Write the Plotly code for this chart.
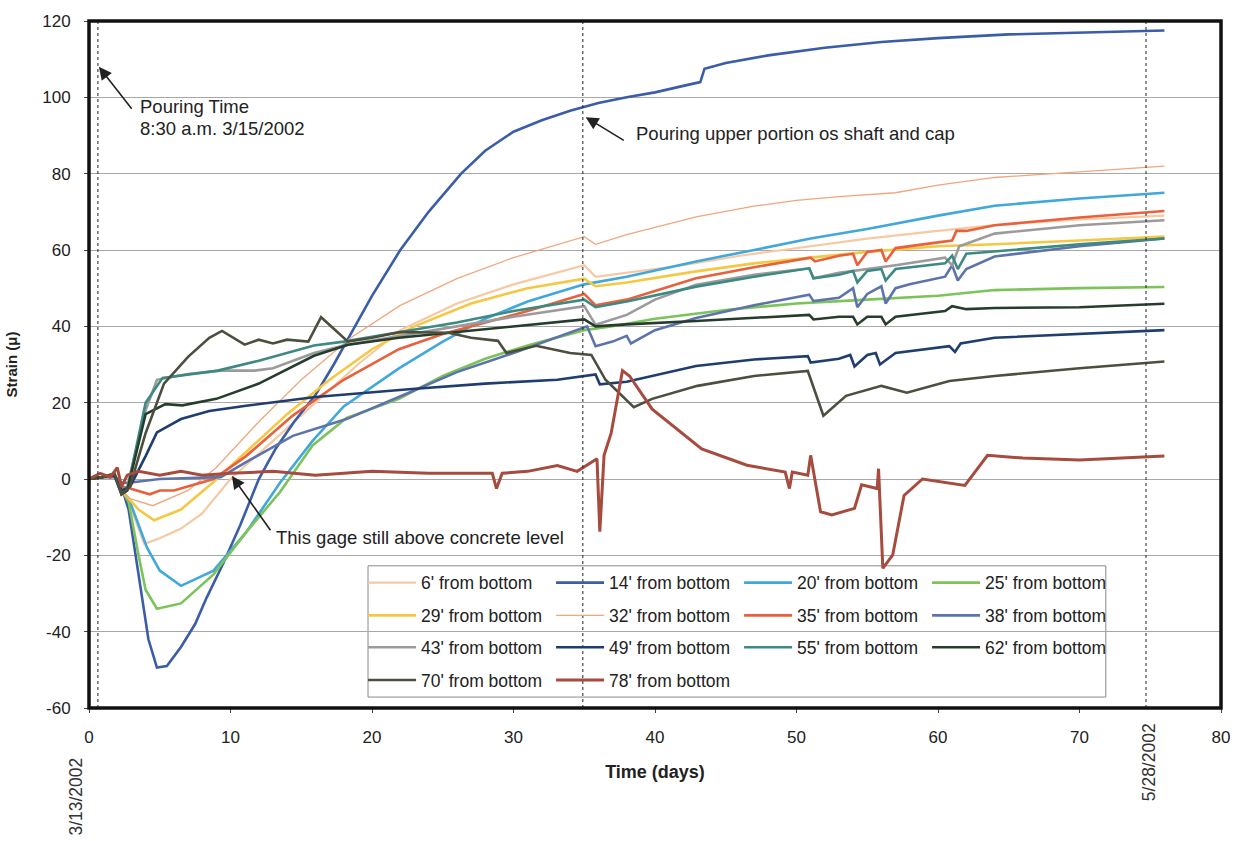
import plotly.graph_objects as go

# ---------------- data ----------------
days_6 = [0, 1.0, 1.8, 2.3, 2.8, 3.9, 5.0, 6.5, 8.0, 10.0, 13.0, 16.0, 19.0, 22.0, 26.0, 30.0, 35.0, 35.8, 38.0, 42.0, 46.0, 50.0, 55.0, 60.0, 64.0, 70.0, 76.0]
strain_6 = [0, 0.5, 1.5, -3, -6, -17, -15.5, -13, -9, 0, 10, 20, 30, 39, 46, 51, 56, 53, 54, 56, 58.5, 60.5, 63, 65, 66.5, 68, 69]

days_14 = [0, 1.0, 1.8, 2.3, 2.8, 3.5, 4.2, 4.8, 5.5, 6.5, 7.5, 8.3, 9.5, 10.7, 12.0, 13.2, 14.5, 16.0, 17.3, 18.5, 20.0, 22.0, 24.0, 26.3, 28.0, 30.0, 32.0, 34.0, 35.0, 36.0, 38.0, 40.0, 42.0, 43.2, 43.5, 45.0, 48.0, 52.0, 56.0, 60.0, 65.0, 70.0, 76.0]
strain_14 = [0, 0.5, 1, -2, -8, -25, -42, -49.4, -49, -44, -38, -31.2, -22, -12, 0, 8, 15, 22, 30, 38, 48, 60, 70, 80, 86, 91, 94, 96.5, 97.5, 98.5, 100, 101.3, 103, 104, 107.5, 109, 111, 113, 114.5, 115.5, 116.5, 117, 117.5]

days_20 = [0, 1.0, 1.8, 2.3, 2.8, 3.5, 4.1, 5.0, 6.5, 8.8, 11.1, 13.5, 15.8, 18.0, 21.9, 25.0, 28.0, 31.0, 35.0, 38.0, 42.9, 47.0, 51.0, 55.0, 60.0, 64.0, 70.0, 76.0]
strain_20 = [0, 0.5, 1, -3, -5, -12, -18, -24, -28, -24, -14, -1, 10, 19, 29, 36, 42, 46.5, 51, 53, 57, 60, 63, 65.5, 69, 71.6, 73.5, 75]

days_25 = [0, 1.0, 1.8, 2.3, 2.8, 3.5, 4.0, 4.8, 6.5, 8.8, 11.1, 13.5, 15.8, 18.2, 21.9, 25.0, 28.0, 31.0, 35.0, 37.0, 40.0, 45.3, 50.0, 55.0, 60.0, 64.0, 70.0, 76.0]
strain_25 = [0, 0.5, 1, -3, -6, -20, -29, -34, -32.6, -25, -14, -3.4, 8.8, 16, 21, 27, 31.5, 35, 39, 40, 42, 44.4, 46, 47, 48, 49.5, 50, 50.3]

days_29 = [0, 1.0, 1.8, 2.3, 2.8, 3.5, 4.6, 6.5, 8.8, 11.1, 14.0, 17.0, 20.0, 23.0, 27.0, 31.0, 35.0, 35.8, 38.0, 42.9, 47.0, 51.0, 55.0, 60.0, 64.0, 70.0, 76.0]
strain_29 = [0, 0.5, 1, -3, -5, -8, -10.8, -8, -0.8, 7, 17, 26, 34, 40, 46, 50, 52.5, 50.5, 51.5, 54.4, 56.5, 58, 59.5, 61, 61.5, 62.5, 63.5]

days_32 = [0, 1.0, 1.8, 2.3, 2.8, 4.5, 7.0, 9.0, 12.0, 15.0, 18.5, 22.0, 26.0, 30.0, 35.0, 35.8, 38.0, 42.9, 47.0, 50.0, 53.0, 57.0, 60.0, 64.0, 70.0, 76.0]
strain_32 = [0, 0.5, 1, -3, -5, -7, -3, 3, 15, 26, 37, 45.5, 52.5, 58, 63.5, 61.5, 64, 68.7, 71.5, 73, 74, 75, 77, 79, 80.5, 82]

days_35 = [0, 1.0, 1.8, 2.3, 2.9, 4.3, 5.0, 6.0, 8.8, 11.1, 14.4, 18.0, 21.9, 25.0, 28.0, 31.0, 35.0, 35.8, 38.0, 42.9, 47.0, 51.0, 51.3, 53.0, 54.0, 54.3, 55.0, 56.0, 56.3, 57.0, 60.0, 61.0, 61.3, 62.0, 64.0, 70.0, 76.0]
strain_35 = [0, 0.5, 1, -2, -2.5, -4, -3, -3, 0, 6, 16.6, 26, 34, 38, 41, 44, 48.5, 45.5, 47, 52.6, 55.5, 58, 57, 58.5, 59, 56, 59.5, 60, 57, 60.5, 62, 62.5, 65, 65, 66.5, 68.5, 70.2]

days_38 = [0, 1.0, 1.8, 2.3, 2.8, 5.0, 9.3, 11.1, 14.4, 18.2, 22.6, 26.0, 30.0, 33.0, 35.2, 35.8, 37.0, 38.0, 38.3, 40.0, 42.9, 47.0, 50.9, 51.2, 53.0, 54.0, 54.3, 55.0, 56.0, 56.3, 57.0, 58.0, 60.5, 61.0, 61.4, 62.0, 64.0, 70.0, 76.0]
strain_38 = [0, 0.5, 0.5, -1, -1, 0, 0.5, 4.4, 11.3, 15.7, 22.6, 28, 33, 37, 40, 34.8, 36, 37.5, 35.5, 39, 42.2, 45.5, 48.3, 46.6, 47.5, 50, 45, 48.5, 50.5, 46, 50, 51, 53, 56, 52, 55, 58.3, 61, 63]

days_43 = [0, 1.0, 1.8, 2.3, 2.7, 4.0, 4.8, 7.0, 9.3, 11.7, 13.0, 15.9, 18.0, 22.0, 26.0, 30.0, 35.0, 35.8, 38.0, 40.0, 42.9, 47.0, 50.9, 51.2, 53.0, 57.0, 60.5, 61.0, 61.5, 64.0, 70.0, 76.0]
strain_43 = [0, 0.5, 1, -3, -2, 18, 26, 27.5, 28.4, 28.4, 29, 33, 35, 37.5, 40, 42.5, 45.3, 40.4, 43, 47, 50.9, 53.5, 55.2, 52.6, 54, 56, 58, 56, 61, 64.3, 66.5, 67.8]

days_49 = [0, 1.0, 1.8, 2.3, 2.9, 4.0, 4.8, 6.5, 8.5, 11.1, 16.0, 22.6, 28.0, 33.1, 35.8, 36.1, 38.0, 42.9, 47.0, 50.8, 51.0, 53.0, 53.8, 54.1, 55.0, 55.6, 55.9, 57.0, 58.0, 60.8, 61.2, 61.6, 64.0, 70.0, 76.0]
strain_49 = [0, 0.5, 1, -3, -2, 6, 12.2, 15.7, 17.8, 19.2, 21.5, 23.5, 25, 26, 27.4, 24.8, 25.5, 29.6, 31.3, 32.2, 30.5, 31.5, 32.5, 29.5, 32.5, 33, 30, 33, 33.5, 34.8, 33.3, 35.5, 37, 38, 39]

days_55 = [0, 1.0, 1.8, 2.3, 2.7, 4.0, 5.2, 9.1, 12.0, 15.9, 18.0, 22.0, 26.0, 30.0, 35.0, 35.8, 38.0, 42.9, 47.0, 50.9, 51.2, 53.0, 54.0, 54.3, 55.0, 56.0, 56.3, 57.0, 60.5, 61.0, 61.4, 62.0, 64.0, 70.0, 76.0]
strain_55 = [0, 0.5, 1, -4, -3, 20, 26.5, 28.4, 31, 35, 36, 38.5, 41, 44, 47, 45, 46.5, 50.4, 53, 55.2, 52.6, 53.5, 54.5, 51.5, 54.5, 55, 52, 55, 56.5, 58.5, 55, 59, 59.6, 61.5, 63]

days_62 = [0, 1.0, 1.8, 2.3, 2.7, 4.0, 5.4, 6.6, 9.0, 12.0, 15.9, 18.3, 21.9, 26.0, 30.0, 35.0, 35.8, 38.0, 42.9, 47.0, 50.9, 51.2, 53.0, 54.0, 54.3, 55.0, 56.0, 56.3, 57.0, 60.5, 61.0, 62.0, 64.0, 70.0, 76.0]
strain_62 = [0, 0.5, 1, -4, -3, 17, 19.6, 19.3, 21, 25, 32.3, 35.2, 37, 38.5, 40, 41.8, 40, 40.5, 41.4, 42.3, 43, 41.8, 42.5, 42.5, 40.5, 42.5, 42.5, 40.5, 42.5, 44, 45.3, 44.5, 44.8, 45, 45.9]

days_70 = [0, 1.0, 1.8, 2.3, 2.9, 4.0, 5.3, 7.0, 8.5, 9.4, 11.0, 12.0, 13.0, 14.0, 15.5, 16.4, 18.3, 20.0, 22.0, 25.4, 27.0, 28.9, 29.5, 31.6, 34.0, 35.5, 36.5, 38.5, 39.8, 43.0, 47.0, 50.8, 51.9, 53.5, 56.0, 57.8, 60.8, 64.0, 70.0, 76.0]
strain_70 = [0, 0.5, 1.5, -4, -2, 12, 25, 32, 37, 38.8, 35.2, 36.5, 35.5, 36.5, 36, 42.4, 36, 37, 38.5, 38.3, 37, 36.2, 33, 34.9, 33, 32.5, 26, 18.8, 21, 24.4, 27, 28.3, 16.6, 21.8, 24.4, 22.6, 25.7, 27, 29, 30.8]

days_78 = [0, 0.8, 1.5, 2.0, 2.3, 2.7, 3.5, 5.0, 6.5, 8.0, 10.0, 13.0, 16.0, 20.0, 24.0, 28.5, 28.8, 29.2, 31.0, 33.1, 34.5, 35.9, 36.1, 36.4, 36.9, 37.7, 38.2, 39.8, 43.3, 46.5, 49.2, 49.5, 49.7, 50.8, 51.0, 51.7, 52.5, 54.1, 54.6, 55.7, 55.8, 56.1, 56.8, 57.6, 58.9, 61.9, 63.5, 66.0, 70.0, 76.0]
strain_78 = [0, 1.5, 0.5, 3, -2, 1, 2, 1, 2, 1, 1.5, 2, 1, 2, 1.5, 1.5, -2.5, 1.5, 2, 3.5, 2, 5.3, -13.8, 6.2, 12, 28.4, 27, 18.3, 7.9, 3.6, 1.8, -2.5, 1.8, 1, 6.2, -8.6, -9.4, -7.7, -1.5, -2.5, 2.7, -23.4, -19.9, -4.3, 0, -1.7, 6.2, 5.5, 5, 6]

series_names = ["6' from bottom", "14' from bottom", "20' from bottom", "25' from bottom",
                "29' from bottom", "32' from bottom", "35' from bottom", "38' from bottom",
                "43' from bottom", "49' from bottom", "55' from bottom", "62' from bottom",
                "70' from bottom", "78' from bottom"]
series_days = [days_6, days_14, days_20, days_25, days_29, days_32, days_35, days_38,
               days_43, days_49, days_55, days_62, days_70, days_78]
series_strain = [strain_6, strain_14, strain_20, strain_25, strain_29, strain_32, strain_35, strain_38,
                 strain_43, strain_49, strain_55, strain_62, strain_70, strain_78]

colors = ["#f7c9a3", "#3b5ca6", "#40a8da", "#7cc35a", "#f5c843", "#f0a77c", "#e8613d", "#5d73ab",
          "#9b9b9b", "#1f3d6e", "#3d8a83", "#263d2d", "#4b4f3e", "#a64b3e"]
widths = [2.2, 2.6, 2.6, 2.6, 2.6, 1.3, 2.6, 2.6, 2.6, 2.6, 2.6, 2.6, 2.6, 3.0]

x_ticks = [0, 10, 20, 30, 40, 50, 60, 70, 80]
y_ticks = [-60, -40, -20, 0, 20, 40, 60, 80, 100, 120]
y_tick_text = [str(v) for v in y_ticks]
event_days = [0.63, 34.9, 74.7]

FONT = "Liberation Sans, Arial, sans-serif"

# ---------------- figure ----------------
fig = go.Figure()
legend_ids = ["legend", "legend2", "legend3", "legend4"]
for i, (nm, dx, sy) in enumerate(zip(series_names, series_days, series_strain)):
    fig.add_trace(go.Scatter(
        x=dx, y=sy, mode="lines", name=nm,
        line=dict(color=colors[i], width=widths[i]),
        legend=legend_ids[i // 4],
    ))

# legend box (white, between grid and traces) and dashed event lines
fig.add_shape(type="rect", xref="paper", yref="paper",
              x0=(369 - 88) / 1140, x1=(1112 - 88) / 1140,
              y0=(708 - 697) / 691, y1=(708 - 565) / 691,
              line=dict(color="#8a8a8a", width=1), fillcolor="white", layer="between")
for d in event_days:
    fig.add_shape(type="line", xref="x", yref="paper", x0=d, x1=d, y0=0, y1=1,
                  line=dict(color="#222222", width=1, dash="3px,3px"), layer="above")
# thick frame
fig.add_shape(type="rect", xref="paper", yref="paper", x0=0, x1=1, y0=0, y1=1,
              line=dict(color="#111111", width=3.5), layer="above")

row_y = [582, 615, 647, 680]
leg_common = dict(orientation="h", xanchor="left", yanchor="middle",
                  bgcolor="rgba(0,0,0,0)", borderwidth=0,
                  font=dict(family=FONT, size=17.5, color="#222222"),
                  entrywidth=125, entrywidthmode="pixels", itemwidth=48,
                  x=(364 - 88) / 1140)
legend_layout = {}
for lid, ry in zip(legend_ids, row_y):
    legend_layout[lid] = dict(leg_common, y=(708 - ry) / 691)

# annotations
ann = []
arrows = [((0.7, 108.0), (3.1, 96.6)), ((35.1, 94.8), (37.9, 88.5)), ((10.1, 0.8), (12.9, -13.8))]
for (tip, tail) in arrows:
    ann.append(dict(x=tip[0], y=tip[1], ax=tail[0], ay=tail[1], axref="x", ayref="y",
                    xref="x", yref="y", text="", showarrow=True, arrowhead=2,
                    arrowsize=1.6, arrowwidth=1.6, arrowcolor="#222222"))
texts = [("Pouring Time", 3.45, 97.6), ("8:30 a.m. 3/15/2002", 3.45, 91.8),
         ("Pouring upper portion os shaft and cap", 38.5, 90.6),
         ("This gage still above concrete level", 13.1, -15.3)]
for t, xx, yy in texts:
    ann.append(dict(x=xx, y=yy, xref="x", yref="y", text=t, showarrow=False,
                    xanchor="left", yanchor="middle",
                    font=dict(family=FONT, size=18.5, color="#222222")))
ann.append(dict(x=(75 - 88) / 1140, y=(708 - 797) / 691, xref="paper", yref="paper",
                text="3/13/2002", textangle=-90, showarrow=False,
                xanchor="center", yanchor="middle",
                font=dict(family=FONT, size=17.5, color="#333333")))
ann.append(dict(x=(1155 - 88) / 1140, y=(708 - 763) / 691, xref="paper", yref="paper",
                text="5/28/2002", textangle=-90, showarrow=False,
                xanchor="center", yanchor="middle",
                font=dict(family=FONT, size=17.5, color="#333333")))

fig.update_layout(
    width=1242, height=841,
    margin=dict(l=88, r=14, t=17, b=133),
    paper_bgcolor="white", plot_bgcolor="white",
    font=dict(family=FONT, size=15, color="#222222"),
    showlegend=True,
    annotations=ann,
    **legend_layout,
)
fig.update_xaxes(range=[0, 80], tickvals=x_ticks, showgrid=False, zeroline=False,
                 ticks="outside", ticklen=4, tickcolor="#444444", ticklabelstandoff=10,
                 showline=False,
                 title=dict(text="<b>Time (days)</b>", standoff=18,
                            font=dict(family=FONT, size=18, color="#222222")),
                 tickfont=dict(family=FONT, size=17, color="#222222"))
fig.update_yaxes(range=[-60, 120], tickvals=y_ticks, ticktext=y_tick_text,
                 showgrid=True, gridcolor="#a8a8a8",
                 gridwidth=1, zeroline=False, ticks="outside", ticklen=4, tickcolor="#444444",
                 ticklabelstandoff=10, showline=False,
                 title=dict(text="<b>Strain (μ)</b>", standoff=20,
                            font=dict(family=FONT, size=15, color="#222222")),
                 tickfont=dict(family=FONT, size=17, color="#222222"))

fig.write_html("out.html")
